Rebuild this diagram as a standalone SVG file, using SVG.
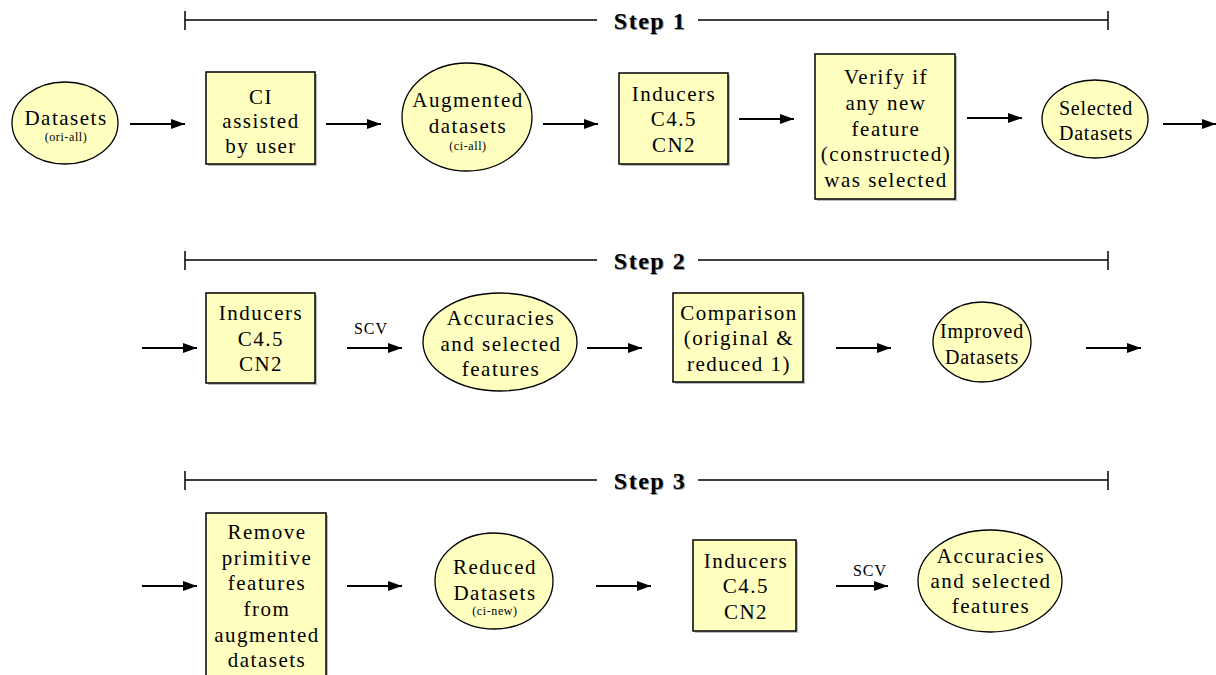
<svg xmlns="http://www.w3.org/2000/svg" width="1216" height="675" viewBox="0 0 1216 675" font-family="'Liberation Serif', 'DejaVu Serif', serif">
<defs>
<marker id="ah" viewBox="0 0 14 10" refX="14" refY="5" markerWidth="14" markerHeight="10" markerUnits="userSpaceOnUse" orient="auto">
<path d="M0,0 L14,5 L0,10 Z" fill="#000"/>
</marker>
</defs>
<style>
text{font-family:'Liberation Serif','DejaVu Serif',serif}
.box{fill:#ffffc0;stroke:#000;stroke-width:1.5}
.ell{fill:#ffffc0;stroke:#000;stroke-width:1.3}
.sh{fill:#bbb}
.t{font-size:21px;text-anchor:middle;fill:#000;letter-spacing:1.5px}
.tn{font-size:20px;text-anchor:middle;fill:#000;letter-spacing:0.8px}
.s{font-size:12px;text-anchor:middle;fill:#000;letter-spacing:0.6px}
.lab{font-size:16px;text-anchor:middle;fill:#000;letter-spacing:1px}
.step{font-size:24px;font-weight:bold;text-anchor:middle;fill:#000;letter-spacing:1.5px}
.stepsh{font-size:24px;font-weight:bold;text-anchor:middle;fill:#999;letter-spacing:1.5px}
.bar{stroke:#000;stroke-width:1.5;fill:none}
.arr{stroke:#000;stroke-width:2;fill:none;marker-end:url(#ah)}
</style>
<rect width="1216" height="675" fill="#fff"/>

<g id="steps">
<path class="bar" d="M185,20 H597 M698,20 H1108 M185,11 V30 M1108,11 V30"/>
<text class="stepsh" x="651" y="30">Step 1</text>
<text class="step" x="650" y="29">Step 1</text>
<path class="bar" d="M185,260 H597 M698,260 H1108 M185,251 V270 M1108,251 V270"/>
<text class="stepsh" x="651" y="270">Step 2</text>
<text class="step" x="650" y="269">Step 2</text>
<path class="bar" d="M185,480 H597 M698,480 H1108 M185,471 V490 M1108,471 V490"/>
<text class="stepsh" x="651" y="490">Step 3</text>
<text class="step" x="650" y="489">Step 3</text>
</g>

<g id="connectors">
<line class="arr" x1="130" y1="124" x2="185" y2="124"/>
<line class="arr" x1="326" y1="124" x2="381" y2="124"/>
<line class="arr" x1="543" y1="124" x2="598" y2="124"/>
<line class="arr" x1="739" y1="119" x2="794" y2="119"/>
<line class="arr" x1="967" y1="118" x2="1022" y2="118"/>
<line class="arr" x1="1163" y1="124" x2="1216" y2="124"/>
<line class="arr" x1="142" y1="348" x2="197" y2="348"/>
<line class="arr" x1="347" y1="348" x2="402" y2="348"/>
<text class="lab" x="371" y="334">SCV</text>
<line class="arr" x1="587" y1="348" x2="642" y2="348"/>
<line class="arr" x1="836" y1="348" x2="891" y2="348"/>
<line class="arr" x1="1086" y1="348" x2="1141" y2="348"/>
<line class="arr" x1="142" y1="586" x2="197" y2="586"/>
<line class="arr" x1="347" y1="586" x2="402" y2="586"/>
<line class="arr" x1="596" y1="586" x2="651" y2="586"/>
<line class="arr" x1="836" y1="586" x2="888" y2="586"/>
<text class="lab" x="870" y="576">SCV</text>
</g>

<g id="n-datasets">
<ellipse class="ell" cx="65" cy="123" rx="53" ry="41"/>
<text class="t" x="66" y="125">Datasets</text>
<text class="s" x="66" y="141">(ori-all)</text>
</g>
<g id="n-ci">
<rect class="sh" x="208" y="74" width="109" height="92"/>
<rect class="box" x="206" y="72" width="109" height="92"/>
<text class="t" x="261" y="104">CI</text>
<text class="t" x="261" y="128">assisted</text>
<text class="t" x="261" y="153">by user</text>
</g>
<g id="n-augmented">
<ellipse class="ell" cx="467" cy="117" rx="65" ry="54"/>
<text class="t" x="468" y="107">Augmented</text>
<text class="t" x="468" y="133">datasets</text>
<text class="s" x="468" y="150">(ci-all)</text>
</g>
<g id="n-inducers1">
<rect class="sh" x="621" y="75" width="109" height="91"/>
<rect class="box" x="619" y="73" width="109" height="91"/>
<text class="t" x="674" y="101">Inducers</text>
<text class="t" x="674" y="126">C4.5</text>
<text class="t" x="674" y="152">CN2</text>
</g>
<g id="n-verify">
<rect class="sh" x="817" y="56" width="140" height="145"/>
<rect class="box" x="815" y="54" width="140" height="145"/>
<text class="t" x="886" y="84">Verify if</text>
<text class="t" x="886" y="110">any new</text>
<text class="t" x="886" y="136">feature</text>
<text class="t" x="886" y="161">(constructed)</text>
<text class="t" x="886" y="187">was selected</text>
</g>
<g id="n-selected">
<ellipse class="ell" cx="1095" cy="119" rx="53" ry="39"/>
<text class="tn" x="1096" y="115">Selected</text>
<text class="tn" x="1096" y="140">Datasets</text>
</g>

<g id="n-inducers2">
<rect class="sh" x="208" y="295" width="109" height="90"/>
<rect class="box" x="206" y="293" width="109" height="90"/>
<text class="t" x="261" y="320">Inducers</text>
<text class="t" x="261" y="346">C4.5</text>
<text class="t" x="261" y="371">CN2</text>
</g>
<g id="n-accuracies2">
<ellipse class="ell" cx="500" cy="342" rx="77" ry="49"/>
<text class="t" x="501" y="325">Accuracies</text>
<text class="t" x="501" y="351">and selected</text>
<text class="t" x="501" y="376">features</text>
</g>
<g id="n-comparison">
<rect class="sh" x="675" y="295" width="130" height="89"/>
<rect class="box" x="673" y="293" width="130" height="89"/>
<text class="t" x="739" y="320">Comparison</text>
<text class="t" x="739" y="345">(original &amp;</text>
<text class="t" x="739" y="371">reduced 1)</text>
</g>
<g id="n-improved">
<ellipse class="ell" cx="982" cy="342" rx="49" ry="40"/>
<text class="tn" x="982" y="338">Improved</text>
<text class="tn" x="982" y="364">Datasets</text>
</g>

<g id="n-remove">
<rect class="sh" x="208" y="515" width="120" height="165"/>
<rect class="box" x="206" y="513" width="120" height="165"/>
<text class="t" x="267" y="539">Remove</text>
<text class="t" x="267" y="565">primitive</text>
<text class="t" x="267" y="590">features</text>
<text class="t" x="267" y="616">from</text>
<text class="t" x="267" y="642">augmented</text>
<text class="t" x="267" y="667">datasets</text>
</g>
<g id="n-reduced">
<ellipse class="ell" cx="494" cy="581" rx="59" ry="48"/>
<text class="t" x="495" y="574">Reduced</text>
<text class="t" x="495" y="600">Datasets</text>
<text class="s" x="495" y="615">(ci-new)</text>
</g>
<g id="n-inducers3">
<rect class="sh" x="695" y="542" width="103" height="91"/>
<rect class="box" x="693" y="540" width="103" height="91"/>
<text class="t" x="746" y="568">Inducers</text>
<text class="t" x="746" y="593">C4.5</text>
<text class="t" x="746" y="619">CN2</text>
</g>
<g id="n-accuracies3">
<ellipse class="ell" cx="990" cy="581" rx="72" ry="51"/>
<text class="t" x="991" y="563">Accuracies</text>
<text class="t" x="991" y="588">and selected</text>
<text class="t" x="991" y="613">features</text>
</g>
</svg>
